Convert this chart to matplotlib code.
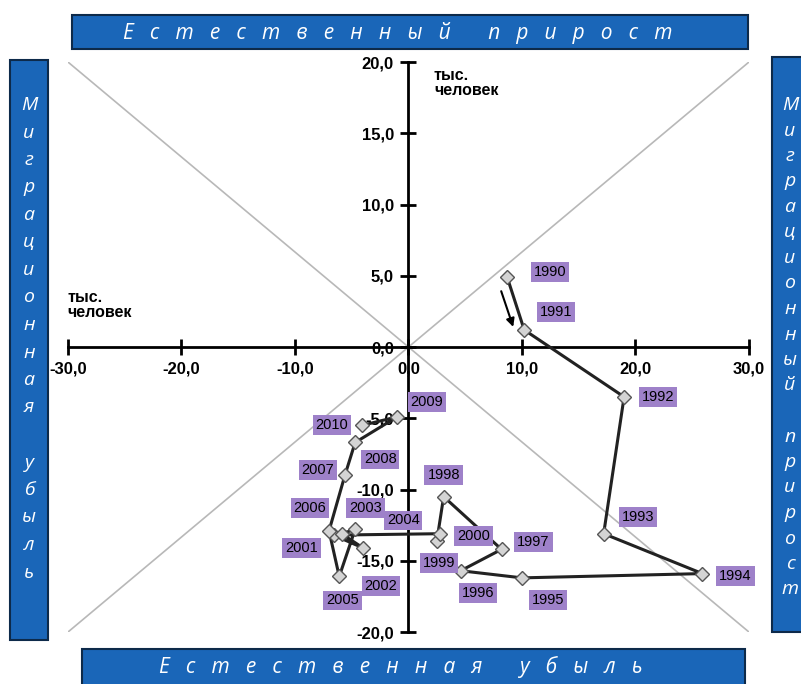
import matplotlib
matplotlib.use('Agg')
import matplotlib.pyplot as plt
import matplotlib.transforms as mtrans
from matplotlib.patches import Rectangle
from matplotlib.ticker import FuncFormatter

years = list(range(1990, 2011))
# x: migration balance, y: natural balance (thousand people)
migration = [8.7, 10.2, 19.0, 17.2, 25.9, 10.0, 4.6, 8.2, 3.1, 2.5, 2.8,
             -6.6, -4.0, -5.9, -4.7, -6.1, -7.0, -5.6, -4.7, -1.0, -4.1]
natural = [4.9, 1.2, -3.5, -13.1, -15.9, -16.2, -15.7, -14.2, -10.5, -13.6, -13.1,
           -13.2, -14.1, -13.1, -12.8, -16.1, -12.9, -9.0, -6.7, -4.9, -5.5]

x_ticks = [-30, -20, -10, 0, 10, 20, 30]
y_ticks = [-20, -15, -10, -5, 0, 5, 10, 15, 20]

top_title = 'Естественный прирост'
bottom_title = 'Естественная убыль'
left_title = 'Миграционная убыль'
right_title = 'Миграционный прирост'
unit = 'тыс.\nчеловек'

# label offsets in pixels from each point
label_off = {1990: (43, 5), 1991: (32, 18), 1992: (34, 0), 1993: (34, 17),
             1994: (33, -2), 1995: (26, -22), 1996: (17, -22), 1997: (32, 7),
             1998: (0, 22), 1999: (2, -22), 2000: (33, -2), 2001: (-32, -13),
             2002: (18, -38), 2003: (24, 26), 2004: (48, 9), 2005: (3, -24),
             2006: (-19, 23), 2007: (-27, 5), 2008: (25, -17), 2009: (30, 15),
             2010: (-30, 0)}

blue = '#1a66b8'
purple = '#9e81c9'

plt.rcParams['font.family'] = ['Liberation Sans', 'DejaVu Sans']

fig = plt.figure(figsize=(8.01, 6.84), dpi=100)
ax = fig.add_axes([0.0849, 0.076, 0.8501, 0.8333])
ax.set_xlim(-30, 30)
ax.set_ylim(-20, 20)

# diagonals
ax.plot([-30, 30], [-20, 20], color='#b8b8b8', lw=1.2, zorder=1)
ax.plot([-30, 30], [20, -20], color='#b8b8b8', lw=1.2, zorder=1)

# spines through origin
for s in ['top', 'right']:
    ax.spines[s].set_visible(False)
ax.spines['left'].set_position(('data', 0))
ax.spines['bottom'].set_position(('data', 0))
ax.spines['left'].set_linewidth(2)
ax.spines['bottom'].set_linewidth(2)
ax.set_xticks(x_ticks)
ax.set_yticks(y_ticks)
fmt = FuncFormatter(lambda v, p: ('%.1f' % v).replace('.', ','))
ax.xaxis.set_major_formatter(fmt)
ax.yaxis.set_major_formatter(fmt)
ax.tick_params(direction='inout', length=11, width=2, labelsize=12, pad=5)
for lab in ax.get_xticklabels() + ax.get_yticklabels():
    lab.set_fontweight('bold')
ax.patch.set_alpha(0)

# trajectory
ax.plot(migration, natural, color='#222222', lw=2.2, zorder=3,
        marker='D', markersize=7, markerfacecolor='#d4d4d4',
        markeredgecolor='#555555', markeredgewidth=1)

for yr, mx, ny in zip(years, migration, natural):
    dx, dy = label_off[yr]
    ax.annotate(str(yr), (mx, ny), xytext=(dx, dy), textcoords='offset pixels',
                ha='center', va='center', fontsize=10.5, zorder=5,
                bbox=dict(boxstyle='square,pad=0.2', fc=purple, ec='none'))

# direction arrow 1990 -> 1991
tr_tip = ax.transData + mtrans.ScaledTranslation(-0.11, 0.03, fig.dpi_scale_trans)
tr_tail = ax.transData + mtrans.ScaledTranslation(-0.06, -0.14, fig.dpi_scale_trans)
ax.annotate('', xy=(migration[1], natural[1]), xycoords=tr_tip,
            xytext=(migration[0], natural[0]), textcoords=tr_tail,
            arrowprops=dict(arrowstyle='-|>', color='black', lw=1.5,
                            mutation_scale=12, shrinkA=0, shrinkB=0), zorder=4)

# unit labels
fig.text(434 / 801, 1 - 83 / 684, unit, fontsize=11.5, fontweight='bold',
         ha='left', va='center', linespacing=1.0)
fig.text(67 / 801, 1 - 305 / 684, unit, fontsize=11.5, fontweight='bold',
         ha='left', va='center', linespacing=1.0)

# banners
def banner(x0, y0, w, h):
    fig.patches.append(Rectangle((x0, y0), w, h, transform=fig.transFigure,
                                 fc=blue, ec='#0d2a4a', lw=1.5, zorder=0))

banner(72 / 801, 1 - 49 / 684, 676 / 801, 34 / 684)
banner(82 / 801, -0.02, 663 / 801, 0.02 + 35 / 684)
banner(10 / 801, 1 - 640 / 684, 38 / 801, 580 / 684)
banner(772 / 801, 1 - 632 / 684, 40 / 801, 575 / 684)

tfont = dict(color='white', fontstyle='italic', family=['Open Sans', 'DejaVu Sans'],
             ha='center', va='center')
fig.text(0.497, 1 - 33 / 684, '   '.join(top_title), fontsize=15, **tfont)
fig.text(0.5, 1 - 667 / 684, '   '.join(bottom_title), fontsize=15, **tfont)

for i, ch in enumerate(left_title):
    fig.text(29 / 801, 1 - (105 + 27.5 * i) / 684, ch, fontsize=14, **tfont)
for i, ch in enumerate(right_title):
    fig.text(790 / 801, 1 - (105 + 25.5 * i) / 684, ch, fontsize=14, **tfont)

fig.savefig('out.png', dpi=100)
